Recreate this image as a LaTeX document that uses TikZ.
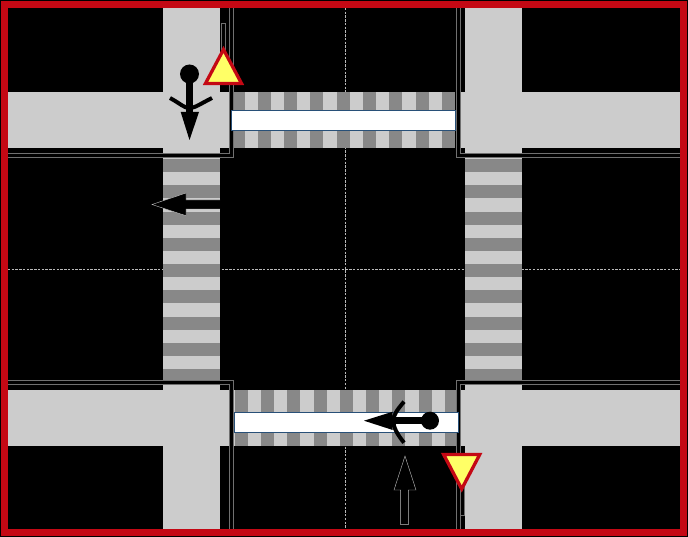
\documentclass[tikz,border=0pt]{standalone}
\usepackage{tikz}
\usetikzlibrary{arrows.meta,calc,positioning}
\definecolor{framered}{RGB}{196,8,20}
\definecolor{roadgray}{RGB}{204,204,204}
\definecolor{stripegray}{RGB}{136,136,136}
\definecolor{signyellow}{RGB}{255,255,102}
\definecolor{lanenavy}{RGB}{40,80,120}
\definecolor{kerbgray}{RGB}{112,112,112}
\tikzset{
  road/.style={fill=roadgray,draw=none},
  stripe/.style={fill=stripegray,draw=none},
  lane/.style={fill=white,draw=lanenavy,line width=0.6pt},
  kerbcore/.style={draw=black,line width=3.2pt,line join=miter},
  kerbedge/.style={draw=kerbgray,line width=0.7pt,line join=miter},
  stub/.style={draw=kerbgray,line width=0.6pt,fill=black},
  yieldsign/.style={fill=signyellow,draw=framered,line width=2.8pt,line join=miter},
  bodyline/.style={draw=black,line width=6.4pt},
  armline/.style={draw=black,line width=3.4pt},
  openarrow/.style={fill=black,draw=gray!50,line width=0.35pt},
  centreline/.style={draw=gray!55,line width=0.4pt,dash pattern=on 2pt off 1.2pt}
}
\begin{document}
\begin{tikzpicture}[x=0.03cm,y=-0.03cm,>=Latex]
  \useasboundingbox (0,0) rectangle (688,537);
  \fill[black] (0,0) rectangle (688,537);
  \draw[centreline] (345,8) -- (345,530);
  \draw[centreline] (8,269) -- (680,269);
  % roads
  \fill[road] (163,8) rectangle (220,530);
  \fill[road] (465,8) rectangle (522,530);
  \fill[road] (8,92) rectangle (230,148);
  \fill[road] (458,92) rectangle (680,148);
  \fill[road] (8,390) rectangle (230,446);
  \fill[road] (458,390) rectangle (680,446);
  % crossings
  \fill[road] (233,92) rectangle (455,148);
  \fill[road] (234,390) rectangle (458,446);
  \foreach \i in {0,...,8} {
    \fill[stripe] ({231.5+26.3*\i},92) rectangle ({244.5+26.3*\i},148);
    \fill[stripe] ({234.6+26.3*\i},390) rectangle ({247.6+26.3*\i},446);
    \fill[stripe] (163,{159+26.3*\i}) rectangle (220,{172+26.3*\i});
    \fill[stripe] (465,{159+26.3*\i}) rectangle (522,{172+26.3*\i});
  }
  % kerbs
  \draw[kerbcore] (231.2,8) -- (231.2,155) -- (8,155);
  \draw[kerbcore] (458,8) -- (458,155) -- (680,155);
  \draw[kerbcore] (231.2,530) -- (231.2,382) -- (8,382);
  \draw[kerbcore] (458,530) -- (458,382) -- (680,382);
  \draw[kerbedge] (229.2,8) -- (229.2,153) -- (8,153);
  \draw[kerbedge] (233.2,8) -- (233.2,157) -- (8,157);
  \draw[kerbedge] (456,8) -- (456,157) -- (680,157);
  \draw[kerbedge] (460,8) -- (460,153) -- (680,153);
  \draw[kerbedge] (229.2,530) -- (229.2,384) -- (8,384);
  \draw[kerbedge] (233.2,530) -- (233.2,380) -- (8,380);
  \draw[kerbedge] (456,530) -- (456,380) -- (680,380);
  \draw[kerbedge] (460,530) -- (460,384) -- (680,384);
  \draw[stub] (221,60) -- (221,23) -- (225.5,23) -- (225.5,60);
  \draw[stub] (460,480) -- (460,515) -- (464,515) -- (464,480);
  \draw[lane] (231.5,110) rectangle (455,130);
  \draw[lane] (234,412) rectangle (458,432);
  % signs
  \draw[yieldsign] (205.5,83.4) -- (241.5,83.4) -- (223.5,49.5) -- cycle;
  \draw[yieldsign] (443.7,454.6) -- (479.7,454.6) -- (461.7,489) -- cycle;
  % walkers
  \draw[armline] (170,98) .. controls (181,104) and (184,108) .. (189.5,108) .. controls (195,108) and (200,104) .. (212,98);
  \draw[bodyline] (189.5,74) -- (189.5,114);
  \fill[black] (189.5,74) circle (9.5);
  \fill[black] (180.7,112) -- (199,112) -- (189.5,140) -- cycle;
  \draw[armline] (404,401.7) .. controls (397,410) and (393.3,415) .. (393.3,421) .. controls (393.3,427) and (397,434) .. (404,442.7);
  \draw[bodyline] (430,420.7) -- (391,420.7);
  \fill[black] (430,420.7) circle (9);
  \fill[black] (392.7,411.7) -- (392.7,430) -- (364,420.7) -- cycle;
  % arrows
  \draw[openarrow] (220,200) -- (186,200) -- (186,193) -- (152,204.5) -- (186,215.7) -- (186,209) -- (220,209);
  \draw[openarrow] (400.7,524.7) -- (400.7,490) -- (394,490) -- (405,456) -- (416,490) -- (408.3,490) -- (408.3,524.7) -- cycle;
  % frame
  \draw[framered,line width=6.2pt] (4.2,4.2) rectangle (683.8,532.8);
\end{tikzpicture}
\end{document}
